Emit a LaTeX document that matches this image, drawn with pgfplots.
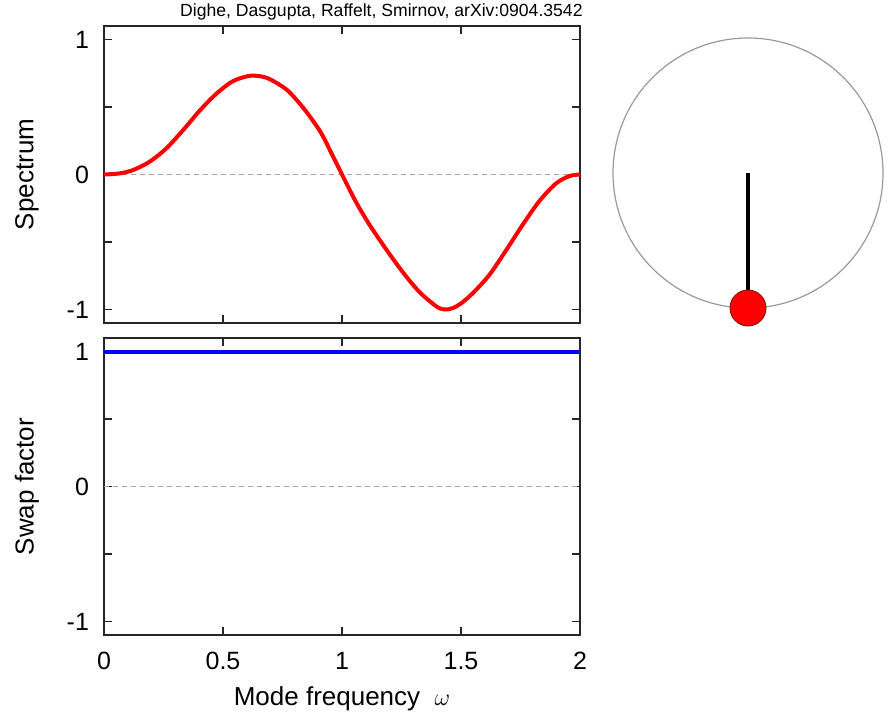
\documentclass[border=0pt]{standalone}
\usepackage{pgfplots}
\pgfplotsset{compat=1.18}
\usepackage{fontspec}
\setmainfont{Liberation Sans}
\begin{document}
\begin{tikzpicture}
\pgfplotsset{
  panel/.style={
    scale only axis, width=238pt, height=148.5pt,
    xmin=0, xmax=2, ymin=-1.1, ymax=1.1,
    axis line style={black!85, line width=0.75pt},
    every tick/.style={black!85, line width=0.6pt},
    tick align=inside, major tick length=4pt, minor tick length=4pt,
    xtick={0,0.5,1,1.5,2}, ytick={-1,0,1}, minor ytick={-0.5,0.5},
    /pgf/number format/assume math mode=true,
    ticklabel style={font=\fontsize{12.5}{14}\selectfont},
    yticklabel style={xshift=-4pt},
    xticklabel style={yshift=-5pt},
    label style={font=\fontsize{13}{15}\selectfont},
    ylabel style={at={(axis description cs:-0.162,0.5)}, anchor=center, rotate=0},
  }
}
\begin{axis}[panel, name=top, at={(0,0)}, anchor=south west,
  xticklabels={}, ylabel={Spectrum}]
\addplot[gray!70, line width=0.5pt, dash pattern=on 2.5pt off 2pt] coordinates {(0,0) (2,0)};
\addplot[red, line width=2pt, smooth, tension=0.5] coordinates {
(0,0) (0.065,0.008) (0.122,0.033) (0.192,0.095) (0.262,0.194) (0.333,0.33)
(0.403,0.475) (0.473,0.60) (0.54,0.69) (0.60,0.727) (0.63,0.732) (0.66,0.727)
(0.698,0.705) (0.769,0.626) (0.839,0.49) (0.909,0.317) (0.955,0.16) (1.0,0.0)
(1.057,-0.198) (1.113,-0.365) (1.184,-0.55) (1.254,-0.72) (1.324,-0.868)
(1.395,-0.975) (1.43,-1.0) (1.465,-0.99) (1.50,-0.955) (1.549,-0.88) (1.619,-0.744)
(1.69,-0.56) (1.76,-0.37) (1.83,-0.195) (1.90,-0.065) (1.957,-0.011) (2,0)};
\end{axis}
\node[anchor=south east, inner sep=0pt, font=\fontsize{8.8}{10}\selectfont]
  at ([xshift=1.5pt,yshift=2.5pt]top.north east) {Dighe, Dasgupta, Raffelt, Smirnov, arXiv:0904.3542};
\begin{axis}[panel, name=bot, at={(0,-7.5pt)}, anchor=north west,
  ylabel={Swap factor}, xlabel={Mode frequency\ \ $\omega$},
  xlabel style={at={(axis description cs:0.5,-0.215)}, anchor=center}]
\addplot[gray!70, line width=0.5pt, dash pattern=on 2.5pt off 2pt] coordinates {(0,0) (2,0)};
\addplot[blue, line width=2pt] coordinates {(0,1) (2,1)};
\end{axis}
\begin{axis}[hide axis, scale only axis, width=175.5pt, height=175.5pt,
  xmin=-1.3, xmax=1.3, ymin=-1.3, ymax=1.3, at={(322pt,75pt)}, anchor=center, clip=false]
\draw[gray!80, line width=0.6pt] (axis cs:0,0) circle[radius=1];
\addplot[black, line width=1.6pt] coordinates {(0,0) (0,-0.98)};
\addplot[only marks, mark=*, mark size=9pt, mark options={fill=red, draw=red!50!black, line width=0.4pt}] coordinates {(0,-1)};
\end{axis}
\pgfresetboundingbox
\path (-52pt,-197.5pt) rectangle (394pt,161.5pt);
\end{tikzpicture}
\end{document}
